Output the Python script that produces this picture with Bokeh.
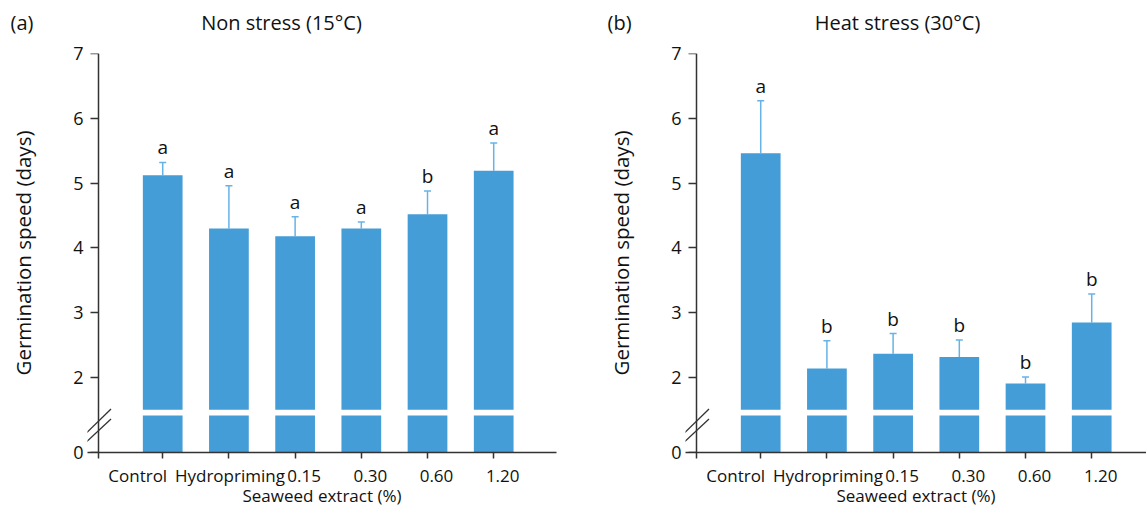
from bokeh.plotting import figure
from bokeh.layouts import row, column
from bokeh.models import (Range1d, FixedTicker, Whisker, TeeHead, Arrow,
                          ColumnDataSource, LinearAxis)
from bokeh.core.properties import value
from bokeh.embed import file_html
from bokeh.resources import INLINE

# ---------------- data ----------------
treatments = ["Control", "Hydropriming", "0.15", "0.30", "0.60", "1.20"]

non_stress_mean = [5.12, 4.30, 4.18, 4.30, 4.52, 5.19]
non_stress_sd = [0.20, 0.66, 0.30, 0.10, 0.36, 0.43]
non_stress_letters = ["a", "a", "a", "a", "b", "a"]

heat_mean = [5.46, 2.14, 2.37, 2.32, 1.91, 2.85]
heat_sd = [0.81, 0.43, 0.31, 0.26, 0.10, 0.44]
heat_letters = ["a", "b", "b", "b", "b", "b"]

y_ticks = [2, 3, 4, 5, 6, 7]

panel_tags = ["(a)", "(b)"]
panel_titles = ["Non stress (15°C)", "Heat stress (30°C)"]

# ---------------- style / geometry ----------------
FONT = "Open Sans"
BAR = "#449DD7"
ERR = "#67B2E6"
AXC = "#333333"
TXT = "#111111"
UNIT_PX = 64.8          # px per day on the y axis
XPX = 66.2              # px per category
X0 = 0.03               # where the y axis sits on the x scale
LEFT_PAD = 11           # frame extends this many px left of the y axis
BZ = 0.845              # position of the "0" tick on the broken axis
GAP_LO, GAP_HI = 1.414, 1.506
FRAME_H = round((7 - BZ) * UNIT_PX)
HEADER_H = 35
TOP = 18
label_nudge_px = [-25, 1, 9, 9, 9, 9]   # horizontal shift of category labels


def style_axis(ax):
    ax.axis_line_color = AXC
    ax.axis_line_width = 1.5
    ax.major_tick_line_color = AXC
    ax.major_tick_line_width = 1.5
    ax.minor_tick_line_color = None
    ax.major_tick_in = 0
    ax.major_label_text_font = FONT
    ax.major_label_text_color = TXT
    ax.axis_label_text_font = FONT
    ax.axis_label_text_font_style = "normal"
    ax.axis_label_text_color = TXT


def make_panel(means, sds, letters, frame_w, b_left, b_right):
    xs = list(range(1, len(treatments) + 1))
    x_start = X0 - LEFT_PAD / XPX
    x_end = x_start + frame_w / XPX
    p = figure(frame_width=frame_w, frame_height=FRAME_H,
               x_range=Range1d(x_start, x_end), y_range=Range1d(BZ, 7),
               output_backend="svg", toolbar_location=None,
               y_axis_location=None,
               min_border_left=b_left, min_border_right=b_right,
               min_border_top=TOP, min_border_bottom=0)
    p.outline_line_color = None
    p.grid.visible = False
    p.background_fill_color = "white"
    p.border_fill_color = "white"

    src = ColumnDataSource(dict(x=xs, mean=means,
                                upper=[m + s for m, s in zip(means, sds)],
                                letter=letters))
    # broken bars: lower piece and upper piece
    p.vbar(x="x", width=0.6, bottom=BZ, top=GAP_LO, source=src,
           fill_color=BAR, line_color=None)
    p.vbar(x="x", width=0.6, bottom=GAP_HI, top="mean", source=src,
           fill_color=BAR, line_color=None)

    w = Whisker(base="x", lower="mean", upper="upper", source=src,
                dimension="height", line_color=ERR, line_width=1.5,
                lower_head=None,
                upper_head=TeeHead(size=7, line_color=ERR, line_width=1.5))
    p.add_layout(w)

    p.text(x="x", y="upper", text="letter", source=src, y_offset=-2,
           text_align="center", text_baseline="bottom",
           text_font=value(FONT), text_font_size="19px", text_color=TXT)

    y_tick_pos = [BZ] + y_ticks
    # y axis labels + title (at the frame edge, no line / ticks)
    ylab = LinearAxis(ticker=FixedTicker(ticks=y_tick_pos),
                      major_label_overrides={BZ: "0"},
                      axis_label="Germination speed (days)")
    style_axis(ylab)
    ylab.axis_line_color = None
    ylab.major_tick_line_color = None
    ylab.major_tick_out = 0
    ylab.major_label_standoff = 4
    ylab.major_label_text_font_size = "18px"
    ylab.axis_label_text_font_size = "20.5px"
    ylab.axis_label_standoff = 33
    p.add_layout(ylab, "left")

    # y axis line + ticks placed at X0 (slightly inside the frame)
    yline = LinearAxis(ticker=FixedTicker(ticks=y_tick_pos),
                       major_label_overrides={t: "" for t in y_tick_pos})
    style_axis(yline)
    yline.fixed_location = X0
    yline.major_tick_out = 8
    yline.major_label_text_font_size = "0px"
    yline.major_label_standoff = 0
    p.add_layout(yline, "left")

    # x axis: line + ticks at the categories, no labels
    xax = p.xaxis[0]
    style_axis(xax)
    xax.ticker = FixedTicker(ticks=[X0] + xs)
    xax.major_tick_out = 6
    xax.major_label_text_font_size = "0px"
    xax.major_label_standoff = 0
    xax.major_label_overrides = {t: "" for t in [X0] + xs}

    # second x axis carrying the (nudged) category labels and the title
    lab_pos = [x + n / XPX for x, n in zip(xs, label_nudge_px)]
    lax = LinearAxis(ticker=FixedTicker(ticks=lab_pos),
                     major_label_overrides={pp: t for pp, t in zip(lab_pos, treatments)},
                     axis_label="Seaweed extract (%)")
    style_axis(lax)
    lax.axis_line_color = None
    lax.major_tick_line_color = None
    lax.major_tick_out = 0
    lax.major_label_text_font_size = "17px"
    lax.axis_label_text_font_size = "17px"
    lax.major_label_standoff = 5
    lax.axis_label_standoff = -6
    p.add_layout(lax, "below")

    # axis-break mark (two parallel slashes across the y axis)
    dx = 12.5 / XPX
    for y_a, y_b in ((1.140, 1.517), (1.001, 1.362)):
        p.add_layout(Arrow(x_start=X0 - dx, y_start=y_a, x_end=X0 + dx, y_end=y_b,
                           end=None, line_color=AXC, line_width=1.3))
    return p


# header with panel tags and titles (pixel coordinate system)
TOTAL_W = 1146
hdr = figure(width=TOTAL_W, height=HEADER_H, x_range=Range1d(0, TOTAL_W),
             y_range=Range1d(0, HEADER_H), min_border=0,
             toolbar_location=None, output_backend="svg",
             x_axis_type=None, y_axis_type=None)
hdr.outline_line_color = None
hdr.grid.visible = False
hdr.text(x=[10, 607], y=[HEADER_H - 22] * 2, text=panel_tags,
         text_align="left", text_baseline="middle",
         text_font=value(FONT), text_font_size="20px", text_color=TXT)
hdr.text(x=[281, 897], y=[HEADER_H - 22] * 2, text=panel_titles,
         text_align="center", text_baseline="middle",
         text_font=value(FONT), text_font_size="20px", text_color=TXT)

p1 = make_panel(non_stress_mean, non_stress_sd, non_stress_letters, 469, 87, 34)
p2 = make_panel(heat_mean, heat_sd, heat_letters, 461, 95, 0)

layout = column(hdr, row(p1, p2, spacing=0), spacing=0)
open("out.html", "w").write(file_html(layout, INLINE))
